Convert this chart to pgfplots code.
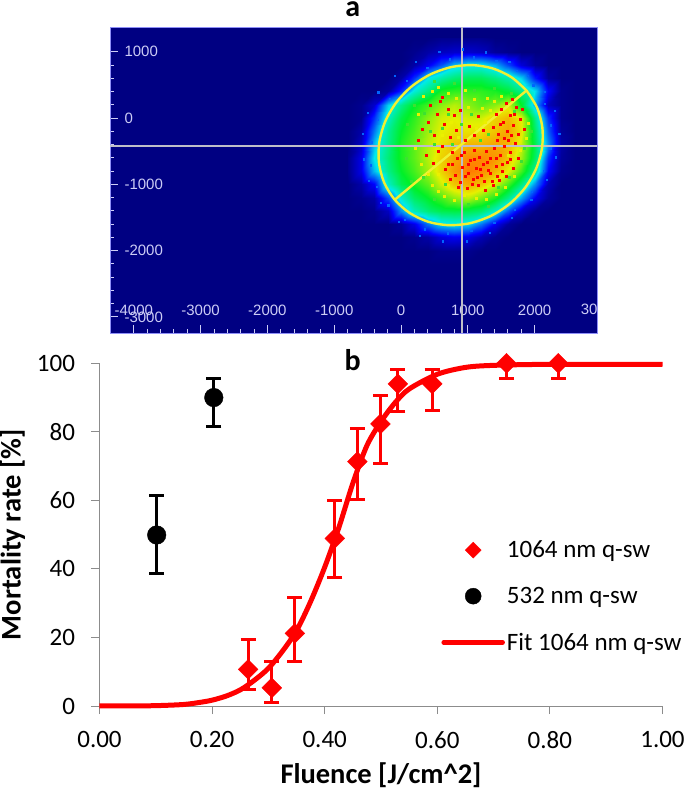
\documentclass[border=0pt]{standalone}
\usepackage{fontspec}
\setmainfont{Carlito}
\newfontfamily\arialf{Liberation Sans}
\usepackage{pgfplots}
\usepackage{pgfplotstable}
\pgfplotsset{compat=1.18}
\usetikzlibrary{plotmarks}

\definecolor{bgblue}{RGB}{0,0,130}
\definecolor{ticklav}{RGB}{205,205,245}
\definecolor{crossgray}{RGB}{190,190,200}
\definecolor{ringyellow}{RGB}{240,240,50}
\definecolor{axisgray}{RGB}{140,140,140}

% beam profile, values
\pgfplotstableread[row sep=\\]{
x y c\\
-800 1200 0\\ -600 1200 0\\ -400 1200 0\\ -200 1200 0\\ 0 1200 0\\ 200 1200 0\\ 400 1200 0\\ 600 1200 1\\ 800 1200 1\\ 1000 1200 1\\ 1200 1200 1\\ 1400 1200 0\\ 1600 1200 0\\ 1800 1200 0\\ 2000 1200 0\\ 2200 1200 0\\ 2400 1200 0\\ 2600 1200 0\\
-800 1000 0\\ -600 1000 0\\ -400 1000 0\\ -200 1000 0\\ 0 1000 0\\ 200 1000 1\\ 400 1000 3\\ 600 1000 5\\ 800 1000 6\\ 1000 1000 6\\ 1200 1000 5\\ 1400 1000 2\\ 1600 1000 1\\ 1800 1000 0\\ 2000 1000 0\\ 2200 1000 0\\ 2400 1000 0\\ 2600 1000 0\\
-800 800 0\\ -600 800 0\\ -400 800 0\\ -200 800 0\\ 0 800 0\\ 200 800 3\\ 400 800 9\\ 600 800 17\\ 800 800 26\\ 1000 800 30\\ 1200 800 30\\ 1400 800 25\\ 1600 800 16\\ 1800 800 7\\ 2000 800 2\\ 2200 800 0\\ 2400 800 0\\ 2600 800 0\\
-800 600 0\\ -600 600 0\\ -400 600 0\\ -200 600 0\\ 0 600 3\\ 200 600 14\\ 400 600 30\\ 600 600 37\\ 800 600 42\\ 1000 600 45\\ 1200 600 45\\ 1400 600 41\\ 1600 600 36\\ 1800 600 28\\ 2000 600 12\\ 2200 600 2\\ 2400 600 0\\ 2600 600 0\\
-800 400 0\\ -600 400 0\\ -400 400 0\\ -200 400 2\\ 0 400 13\\ 200 400 32\\ 400 400 41\\ 600 400 52\\ 800 400 54\\ 1000 400 54\\ 1200 400 54\\ 1400 400 52\\ 1600 400 48\\ 1800 400 40\\ 2000 400 29\\ 2200 400 10\\ 2400 400 1\\ 2600 400 0\\
-800 200 0\\ -600 200 1\\ -400 200 6\\ -200 200 28\\ 0 200 40\\ 200 200 50\\ 400 200 56\\ 600 200 62\\ 800 200 66\\ 1000 200 62\\ 1200 200 58\\ 1400 200 62\\ 1600 200 68\\ 1800 200 50\\ 2000 200 24\\ 2200 200 5\\ 2400 200 1\\ 2600 200 0\\
-800 0 0\\ -600 0 1\\ -400 0 14\\ -200 0 34\\ 0 0 47\\ 200 0 54\\ 400 0 62\\ 600 0 68\\ 800 0 70\\ 1000 0 68\\ 1200 0 68\\ 1400 0 74\\ 1600 0 78\\ 1800 0 70\\ 2000 0 40\\ 2200 0 14\\ 2400 0 1\\ 2600 0 0\\
-800 -200 0\\ -600 -200 3\\ -400 -200 20\\ -200 -200 39\\ 0 -200 50\\ 200 -200 56\\ 400 -200 64\\ 600 -200 70\\ 800 -200 72\\ 1000 -200 72\\ 1200 -200 72\\ 1400 -200 76\\ 1600 -200 80\\ 1800 -200 72\\ 2000 -200 44\\ 2200 -200 18\\ 2400 -200 2\\ 2600 -200 0\\
-800 -400 0\\ -600 -400 5\\ -400 -400 26\\ -200 -400 40\\ 0 -400 52\\ 200 -400 58\\ 400 -400 66\\ 600 -400 72\\ 800 -400 76\\ 1000 -400 78\\ 1200 -400 78\\ 1400 -400 80\\ 1600 -400 78\\ 1800 -400 68\\ 2000 -400 46\\ 2200 -400 22\\ 2400 -400 3\\ 2600 -400 0\\
-800 -600 1\\ -600 -600 8\\ -400 -600 30\\ -200 -600 42\\ 0 -600 52\\ 200 -600 58\\ 400 -600 66\\ 600 -600 74\\ 800 -600 80\\ 1000 -600 84\\ 1200 -600 84\\ 1400 -600 82\\ 1600 -600 76\\ 1800 -600 64\\ 2000 -600 44\\ 2200 -600 14\\ 2400 -600 2\\ 2600 -600 0\\
-800 -800 1\\ -600 -800 8\\ -400 -800 26\\ -200 -800 40\\ 0 -800 50\\ 200 -800 56\\ 400 -800 64\\ 600 -800 74\\ 800 -800 82\\ 1000 -800 86\\ 1200 -800 84\\ 1400 -800 78\\ 1600 -800 70\\ 1800 -800 56\\ 2000 -800 38\\ 2200 -800 10\\ 2400 -800 1\\ 2600 -800 0\\
-800 -1000 0\\ -600 -1000 3\\ -400 -1000 10\\ -200 -1000 34\\ 0 -1000 46\\ 200 -1000 52\\ 400 -1000 58\\ 600 -1000 68\\ 800 -1000 76\\ 1000 -1000 80\\ 1200 -1000 76\\ 1400 -1000 68\\ 1600 -1000 56\\ 1800 -1000 42\\ 2000 -1000 22\\ 2200 -1000 4\\ 2400 -1000 0\\ 2600 -1000 0\\
-800 -1200 0\\ -600 -1200 1\\ -400 -1200 3\\ -200 -1200 16\\ 0 -1200 33\\ 200 -1200 44\\ 400 -1200 50\\ 600 -1200 56\\ 800 -1200 62\\ 1000 -1200 66\\ 1200 -1200 60\\ 1400 -1200 52\\ 1600 -1200 40\\ 1800 -1200 24\\ 2000 -1200 9\\ 2200 -1200 2\\ 2400 -1200 0\\ 2600 -1200 0\\
-800 -1400 0\\ -600 -1400 0\\ -400 -1400 1\\ -200 -1400 5\\ 0 -1400 22\\ 200 -1400 35\\ 400 -1400 42\\ 600 -1400 46\\ 800 -1400 47\\ 1000 -1400 46\\ 1200 -1400 43\\ 1400 -1400 33\\ 1600 -1400 18\\ 1800 -1400 6\\ 2000 -1400 1\\ 2200 -1400 0\\ 2400 -1400 0\\ 2600 -1400 0\\
-800 -1600 0\\ -600 -1600 0\\ -400 -1600 0\\ -200 -1600 0\\ 0 -1600 2\\ 200 -1600 8\\ 400 -1600 20\\ 600 -1600 28\\ 800 -1600 30\\ 1000 -1600 28\\ 1200 -1600 20\\ 1400 -1600 9\\ 1600 -1600 2\\ 1800 -1600 0\\ 2000 -1600 0\\ 2200 -1600 0\\ 2400 -1600 0\\ 2600 -1600 0\\
-800 -1800 0\\ -600 -1800 0\\ -400 -1800 0\\ -200 -1800 0\\ 0 -1800 0\\ 200 -1800 1\\ 400 -1800 3\\ 600 -1800 7\\ 800 -1800 9\\ 1000 -1800 8\\ 1200 -1800 4\\ 1400 -1800 1\\ 1600 -1800 0\\ 1800 -1800 0\\ 2000 -1800 0\\ 2200 -1800 0\\ 2400 -1800 0\\ 2600 -1800 0\\
-800 -2000 0\\ -600 -2000 0\\ -400 -2000 0\\ -200 -2000 0\\ 0 -2000 0\\ 200 -2000 0\\ 400 -2000 0\\ 600 -2000 1\\ 800 -2000 1\\ 1000 -2000 1\\ 1200 -2000 0\\ 1400 -2000 0\\ 1600 -2000 0\\ 1800 -2000 0\\ 2000 -2000 0\\ 2200 -2000 0\\ 2400 -2000 0\\ 2600 -2000 0\\
-800 -2200 0\\ -600 -2200 0\\ -400 -2200 0\\ -200 -2200 0\\ 0 -2200 0\\ 200 -2200 0\\ 400 -2200 0\\ 600 -2200 0\\ 800 -2200 0\\ 1000 -2200 0\\ 1200 -2200 0\\ 1400 -2200 0\\ 1600 -2200 0\\ 1800 -2200 0\\ 2000 -2200 0\\ 2200 -2200 0\\ 2400 -2200 0\\ 2600 -2200 0\\
}\beamdata

\pgfplotstableread{
x y up dn
0.264 10.7 8.8 6.0
0.306 5.3 7.8 4.2
0.347 21.2 10.5 8.3
0.418 48.9 11.2 11.4
0.458 71.3 9.7 10.9
0.499 82.3 8.3 11.5
0.530 94.0 4.2 8.0
0.591 94.0 4.2 7.8
0.723 100 0 4.4
0.815 100 0 4.4
}\redpts

\pgfplotstableread{
x y up dn
0.1016 49.9 11.4 11.2
0.203 90.0 5.6 8.5
}\blackpts

\begin{document}
\begin{tikzpicture}[x=1pt,y=1pt]
\useasboundingbox (0,0) rectangle (685,788);

% panel a
\begin{axis}[
    at={(110pt,455pt)}, anchor=south west,
    scale only axis, width=487pt, height=306pt,
    xmin=-4356, xmax=2934, ymin=-3243, ymax=1372,
    axis background/.style={fill=bgblue},
    axis line style={draw=ticklav!70!blue, line width=0.8pt},
    colormap={beam}{rgb255(0pt)=(0,0,130); rgb255(10pt)=(0,0,255); rgb255(30pt)=(0,235,235); rgb255(50pt)=(0,240,40); rgb255(70pt)=(230,240,0); rgb255(85pt)=(255,130,0); rgb255(100pt)=(255,0,0)},
    point meta min=0, point meta max=100,
    tick align=inside, xtick pos=bottom, ytick pos=left,
    major tick length=8pt, minor tick length=3.5pt,
    minor tick num=4,
    tick style={draw=ticklav, line width=0.8pt},
    xtick={-4000,-3000,-2000,-1000,0,1000,2000},
    xticklabels={-4000,-3000,-2000,-1000,0,1000,2000},
    ytick={-3000,-2000,-1000,0,1000},
    yticklabels={-3000,-2000,-1000,0,1000},
    xticklabel style={anchor=center, yshift=23pt, font=\arialf\fontsize{15}{18}\selectfont, text=ticklav},
    yticklabel style={anchor=west, xshift=11pt, font=\arialf\fontsize{15}{18}\selectfont, text=ticklav},
]
\addplot[surf, shader=interp, mesh/cols=18, mesh/ordering=x varies, point meta=explicit]
    table[x=x, y=y, meta=c] {\beamdata};
% speckle seen in the beam
\addplot[only marks, color={rgb,255:red,0;green,100;blue,255}, mark=square*, mark size=0.7pt] coordinates {
    (1978,496) (1730,716) (1428,860) (1087,918) (733,884) (390,761) (82,560) (-171,293)
    (-351,-23) (-447,-365) (-451,-710) (-364,-1035) (-192,-1316) (56,-1536) (358,-1680)
    (699,-1738) (1053,-1704) (1396,-1582) (1704,-1380) (1957,-1113) (2137,-797) (2233,-455)
    (2237,-110) (2150,215) (1900,640) (1620,850) (1270,990) (920,1040) (570,1000) (220,850)
    (-90,640) (-340,390) (-500,80) (-570,-240) (-560,-620) (-480,-950) (-300,-1280) (-30,-1560)
    (280,-1780) (620,-1860) (980,-1860) (1330,-1730) (1660,-1500) (1950,-1230) (2180,-930)
    (2320,-590) (2370,-240) (2300,110) (2150,400)};
\addplot[only marks, color={rgb,255:red,60;green,225;blue,50}, mark=square*, mark size=1pt] coordinates {
    (700,60) (610,-160) (900,-100) (1050,60) (1180,-330) (1310,-240) (760,-400) (660,-1000)
    (500,-400) (430,-200) (350,70) (1450,-1050) (1620,-900) (1800,-650) (1850,-450) (1950,-200)
    (330,-900) (500,-1220) (1000,-1300) (1300,-1330) (1700,100) (1650,370) (1400,450) (1100,420)
    (800,520) (500,560) (200,200) (100,-100) (80,-600) (150,-950)};
\addplot[only marks, color={rgb,255:red,235;green,240;blue,0}, mark=square*, mark size=1pt] coordinates {
    (400,-850) (470,-1020) (560,-1100) (640,-1180) (700,-1010) (300,-700) (210,-450) (260,60)
    (330,330) (470,400) (560,470) (700,380) (820,300) (960,420) (1100,280) (1210,150) (1290,300)
    (1400,250) (1500,330) (1600,-560) (1780,-480) (1880,-300) (1900,-80) (1700,-880) (1560,-1040)
    (1420,-1150) (1280,-1230) (1120,-1210) (940,-1170) (790,-1240) (560,-850) (620,-260) (750,-70)
    (860,-290) (1000,160) (1120,-150) (1260,-60) (1330,110)};
\addplot[only marks, color=red, mark=square*, mark size=1pt] coordinates {
    (620,-420) (700,-690) (760,-510) (810,-860) (840,-610) (880,-970) (920,-740) (950,-520)
    (985,-1060) (1010,-830) (1040,-640) (1075,-930) (1090,-480) (1120,-760) (1150,-1010) (1165,-590)
    (1205,-870) (1230,-690) (1255,-1090) (1270,-500) (1310,-790) (1335,-610) (1360,-960) (1390,-450)
    (1420,-720) (1445,-880) (1480,-560) (1510,-800) (1545,-420) (1590,-670) (1630,-520) (1680,-760)
    (1710,-380) (1750,-610) (660,-780) (730,-920) (770,-690) (860,-1040) (900,-560) (960,-880)
    (1000,-700) (1060,-1000) (1100,-620) (1135,-900) (1190,-770) (1240,-950) (1290,-660) (1340,-840)
    (1380,-1010) (1430,-600) (1470,-940) (1520,-700) (1570,-880) (1640,-620)
    (1380,-140) (1420,60) (1460,-240) (1500,130) (1535,-60) (1570,230) (1590,-200) (1630,40)
    (1660,280) (1680,-110) (1720,160) (1750,-250) (1780,-20) (1810,130) (1840,-170) (1440,-330)
    (1600,-340) (1650,-260) (1700,60) (1540,-310) (1480,-90)
    (320,-170) (430,190) (500,-260) (540,60) (590,260) (650,-100) (700,130) (740,-290) (790,40)
    (830,-180) (890,110) (620,310) (410,-70) (260,-340) (560,-500) (480,-680) (370,-560) (1020,-120)
    (1090,-260) (1160,30) (960,-330) (1230,-190)};
\addplot[crossgray, line width=2.4pt] coordinates {(-4356,-425) (2934,-425)};
\addplot[crossgray, line width=2.4pt] coordinates {(910,-3243) (910,1372)};
\addplot[ringyellow, line width=2.4pt] coordinates {(-93,-1234) (1879,414)};
\addplot[ringyellow, line width=2.4pt, smooth] coordinates {
    (1879,414) (1654,614) (1379,745) (1069,797) (748,766) (436,655) (156,472) (-74,229)
    (-238,-58) (-325,-369) (-329,-683) (-250,-978) (-93,-1234) (132,-1434) (407,-1565)
    (717,-1617) (1038,-1586) (1350,-1475) (1630,-1292) (1860,-1049) (2024,-762) (2111,-451)
    (2115,-137) (2036,158) (1879,414)};
\node[text=ticklav, font=\arialf\fontsize{15}{18}\selectfont, anchor=west, inner sep=0pt]
    at (axis cs:2690,-2890) {30};
\end{axis}

% panel b
\begin{axis}[
    at={(99.5pt,82pt)}, anchor=south west,
    scale only axis, width=563pt, height=342.7pt,
    xmin=0, xmax=1, ymin=0, ymax=100,
    axis x line*=bottom, axis y line*=left, clip=false,
    axis line style={draw=axisgray, line width=1pt, -},
    tick style={draw=axisgray, line width=1pt},
    tick align=outside, major tick length=8pt,
    xtick={0,0.2,0.4,0.6,0.8,1},
    xticklabels={0.00,0.20,0.40,0.60,0.80,1.00},
    ytick={0,20,40,60,80,100},
    yticklabels={0,20,40,60,80,100},
    ticklabel style={font=\fontsize{25}{30}\selectfont},
    xticklabel shift=14pt, yticklabel shift=13pt,
    xlabel={\textbf{Fluence [J/cm\textasciicircum 2]}},
    ylabel={\textbf{Mortality rate [\%]}},
    xlabel shift=7pt, ylabel shift=5pt,
    label style={font=\fontsize{28.5}{33}\selectfont},
    legend style={at={(axis cs:0.607,32)}, anchor=west, draw=none, fill=none, inner sep=0pt,
        row sep=24pt, font=\fontsize{25}{30}\selectfont},
    legend cell align=left,
]
\addplot[only marks, red, mark=square*, mark size=7pt, mark options={rotate=45, fill=red, draw=red}, forget plot,
    error bars/.cd, y dir=both, y explicit,
    error bar style={red, line width=3.2pt},
    error mark options={rotate=90, mark size=7.5pt, line width=3pt, draw=red}]
    table[x=x, y=y, y error plus=up, y error minus=dn] {\redpts};
\addlegendimage{legend image code/.code={\fill[red] (29.5pt,-8pt) -- (37.5pt,0pt) -- (29.5pt,8pt) -- (21.5pt,0pt) -- cycle;}}
\addlegendentry{1064 nm q-sw}
\addplot[only marks, black, mark=*, mark size=9.3pt, forget plot,
    error bars/.cd, y dir=both, y explicit,
    error bar style={black, line width=3.2pt},
    error mark options={rotate=90, mark size=7.5pt, line width=3pt, draw=black}]
    table[x=x, y=y, y error plus=up, y error minus=dn] {\blackpts};
\addlegendimage{legend image code/.code={\fill[black] (29.5pt,0pt) circle (8pt);}}
\addlegendentry{532 nm q-sw}
\addplot[red, line width=5pt, smooth, forget plot] coordinates {
    (0,0.02) (0.05,0.03) (0.1,0.1) (0.15,0.45) (0.18,1.1) (0.2,1.7) (0.225,2.9) (0.25,4.7)
    (0.275,7.5) (0.3,11) (0.325,16) (0.35,22) (0.375,30.5) (0.4,40.5) (0.425,52) (0.45,65)
    (0.475,76) (0.5,83) (0.525,88.5) (0.55,92.5) (0.6,96.8) (0.65,98.8) (0.7,99.4) (0.8,99.7) (1,99.7)};
\addlegendimage{legend image code/.code={\draw[red, line width=4.5pt, line cap=round] (0pt,0pt) -- (59pt,0pt);}}
\addlegendentry{Fit 1064 nm q-sw}
\end{axis}

\node[font=\bfseries\fontsize{30}{34}\selectfont] at (352.7,779) {a};
\node[font=\bfseries\fontsize{30}{34}\selectfont] at (352.7,428) {b};
\end{tikzpicture}
\end{document}
